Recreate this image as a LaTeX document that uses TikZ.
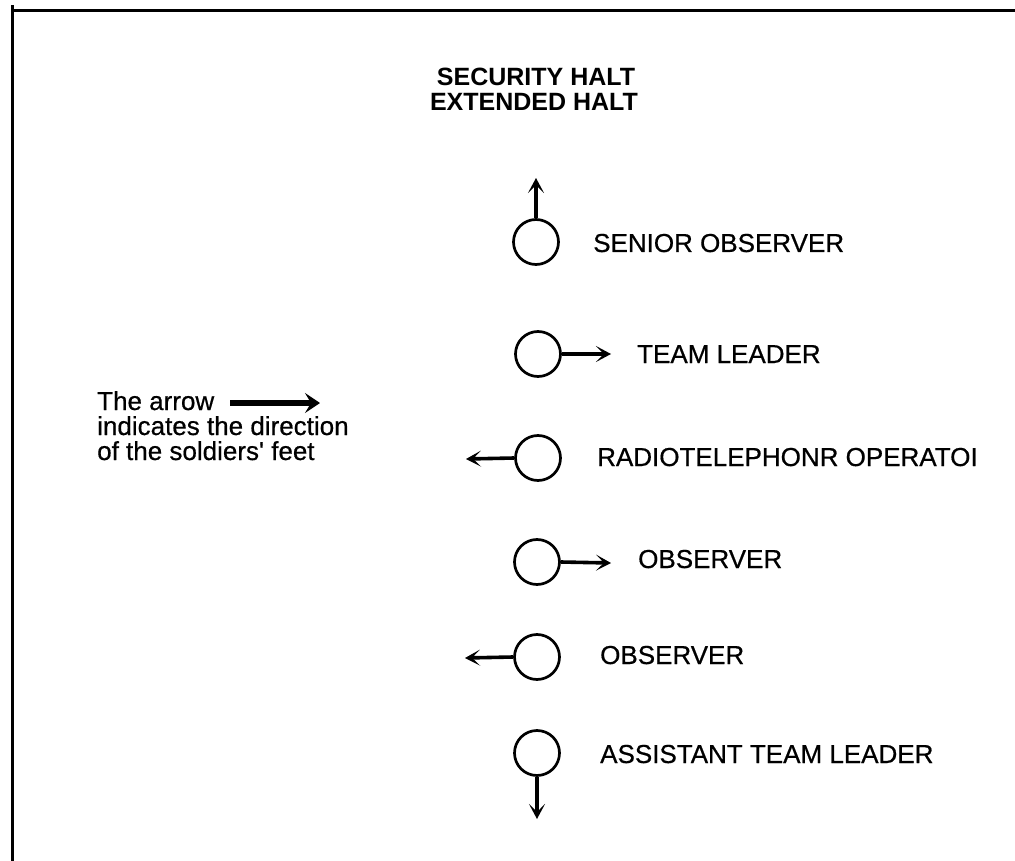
\documentclass[tikz,border=0pt]{standalone}
\usepackage{fontspec}
\setmainfont{Liberation Sans}
\newfontfamily\scanfont[FakeBold=0.6]{Liberation Sans}
\usetikzlibrary{arrows.meta}
\begin{document}
\begin{tikzpicture}[x=1pt,y=-1pt,
  soldier/.style={draw, circle, line width=2.7pt, minimum size=45pt, inner sep=0pt},
  feet/.style={line width=3.6pt, -{Stealth[length=15pt,width=16pt,inset=8pt]}},
  lbl/.style={anchor=base west, font=\scanfont\fontsize{26}{26}\selectfont, inner sep=0pt},
  ttl/.style={anchor=base, font=\bfseries\fontsize{25}{25}\selectfont, inner sep=0pt},
  legend/.style={anchor=base west, font=\scanfont\fontsize{26}{26}\selectfont, inner sep=0pt}
]
\useasboundingbox (0,0) rectangle (1015,861);
% frame
\fill (11,9) rectangle (1015,12);
\fill (11,5) rectangle (14,861);
% title
\node[ttl] (t1) at (536,86) {SECURITY HALT};
\node[ttl] (t2) at (534,111) {EXTENDED HALT};
% soldiers
\node[soldier] (so) at (536,242) {};
\node[soldier] (tl) at (538,354) {};
\node[soldier] (rto) at (538,458) {};
\node[soldier] (ob1) at (537,562) {};
\node[soldier] (ob2) at (537,657) {};
\node[soldier] (atl) at (537,753) {};
% arrow ends
\coordinate (soF) at (536,178);
\coordinate (tlF) at (611,354);
\coordinate (rtoF) at (466,459);
\coordinate (ob1F) at (611,563);
\coordinate (ob2F) at (465,658);
\coordinate (atlF) at (537,819);
\draw[feet] (so.north) -- (soF);
\draw[feet] (tl.east) -- (tlF);
\draw[feet] (rto.west) -- (rtoF);
\draw[feet] (ob1.east) -- (ob1F);
\draw[feet] (ob2.west) -- (ob2F);
\draw[feet] (atl.south) -- (atlF);
% labels
\node[lbl] (soL) at (593,252) {SENIOR OBSERVER};
\node[lbl] (tlL) at (637,363) {TEAM LEADER};
\node[lbl] (rtoL) at (597,466) {RADIOTELEPHONR OPERATOI};
\node[lbl] (ob1L) at (638,568) {OBSERVER};
\node[lbl] (ob2L) at (600,664) {OBSERVER};
\node[lbl] (atlL) at (600,763) {ASSISTANT TEAM LEADER};
% legend
\node[legend] (lg1) at (97,410) {The arrow};
\node[legend] (lg2) at (97,435) {indicates the direction};
\node[legend] (lg3) at (97,460) {of the soldiers' feet};
\coordinate (lgA) at (230,403);
\coordinate (lgB) at (320,403);
\draw[line width=5.5pt, -{Stealth[length=15pt,width=20pt,inset=6pt]}] (lgA) -- (lgB);
\end{tikzpicture}
\end{document}
